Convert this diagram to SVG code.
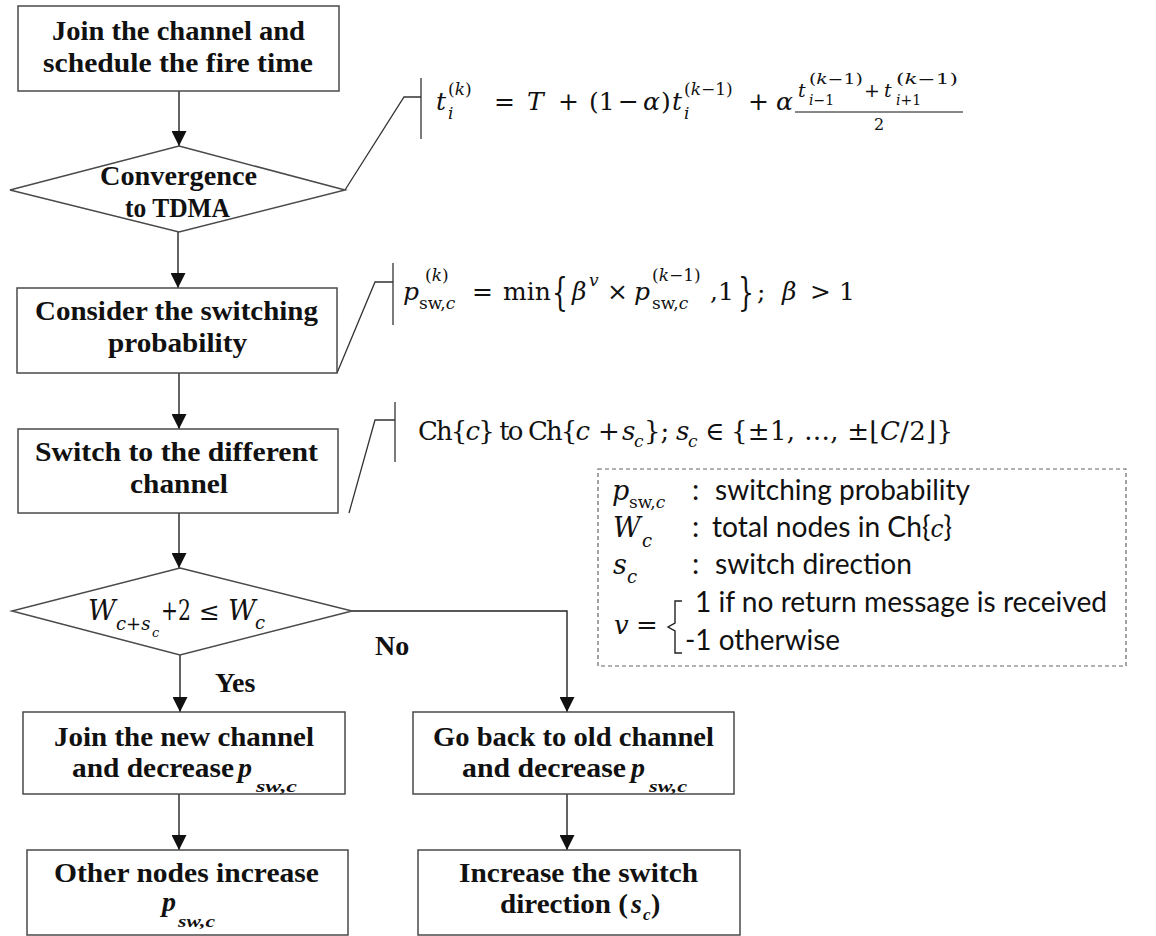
<svg xmlns="http://www.w3.org/2000/svg" width="1156" height="936" viewBox="0 0 1156 936">
  <style>
    .box { fill: #ffffff; stroke: #4a4a4a; stroke-width: 1.5; }
    .lbl { font-family: "Liberation Serif", serif; font-weight: bold; font-size: 28px; fill: #111; }
    .lbl-sub { font-family: "Liberation Serif", serif; font-weight: bold; font-style: italic; font-size: 17px; fill: #111; }
    .lbl-it { font-style: italic; }
    .math { font-family: "DejaVu Serif", serif; fill: #111; }
    .it { font-style: italic; }
    .leg { font-family: "Lato", "Liberation Sans", sans-serif; font-size: 29px; fill: #111; }
    .conn { stroke: #222; stroke-width: 1.4; fill: none; }
    .call { stroke: #333; stroke-width: 1.3; fill: none; }
  </style>
  <defs>
    <marker id="arrow" markerUnits="userSpaceOnUse" markerWidth="15" markerHeight="15" refX="15" refY="7.5" orient="auto">
      <path d="M0,0 L15,7.5 L0,15 z" fill="#111"/>
    </marker>
  </defs>
  <rect width="1156" height="936" fill="#ffffff"/>

  <!-- connectors -->
  <g id="connectors">
    <path class="conn" d="M179,91 V146" marker-end="url(#arrow)"/>
    <path class="conn" d="M178,232 V288" marker-end="url(#arrow)"/>
    <path class="conn" d="M179,373 V429" marker-end="url(#arrow)"/>
    <path class="conn" d="M179,513 V568" marker-end="url(#arrow)"/>
    <path class="conn" d="M180,655 V712" marker-end="url(#arrow)"/>
    <path class="conn" d="M352,611 H567 V712" marker-end="url(#arrow)"/>
    <path class="conn" d="M179,794 V850" marker-end="url(#arrow)"/>
    <path class="conn" d="M567,794 V850" marker-end="url(#arrow)"/>
    <text class="lbl" x="375" y="655" font-size="27">No</text>
    <text class="lbl" x="215" y="692" font-size="27">Yes</text>
  </g>

  <!-- callout brackets to the formulas -->
  <g id="callouts">
    <polyline class="call" points="345,190 404,97 421,97"/>
    <line class="call" x1="421" y1="78" x2="421" y2="139"/>
    <polyline class="call" points="337,373 375,282 393,282"/>
    <line class="call" x1="393" y1="263" x2="393" y2="325"/>
    <polyline class="call" points="349,513 375,420 395,420"/>
    <line class="call" x1="395" y1="402" x2="395" y2="462"/>
  </g>

  <!-- flow nodes -->
  <g id="join-channel">
    <rect class="box" x="18" y="6" width="321" height="85"/>
    <text class="lbl" x="52" y="40" textLength="253" lengthAdjust="spacingAndGlyphs">Join the channel and</text>
    <text class="lbl" x="43" y="72" textLength="270" lengthAdjust="spacingAndGlyphs">schedule the fire time</text>
  </g>

  <g id="convergence">
    <polygon class="box" points="179,146 345,190 179,232 10,190"/>
    <text class="lbl" x="100" y="185" textLength="157" lengthAdjust="spacingAndGlyphs">Convergence</text>
    <text class="lbl" x="125" y="217" textLength="105" lengthAdjust="spacingAndGlyphs">to TDMA</text>
  </g>

  <g id="consider-probability">
    <rect class="box" x="17" y="288" width="320" height="85"/>
    <text class="lbl" x="35" y="320" textLength="283" lengthAdjust="spacingAndGlyphs">Consider the switching</text>
    <text class="lbl" x="108" y="352" textLength="139" lengthAdjust="spacingAndGlyphs">probability</text>
  </g>

  <g id="switch-channel">
    <rect class="box" x="18" y="429" width="320" height="84"/>
    <text class="lbl" x="35" y="461" textLength="283" lengthAdjust="spacingAndGlyphs">Switch to the different</text>
    <text class="lbl" x="130" y="493" textLength="98" lengthAdjust="spacingAndGlyphs">channel</text>
  </g>

  <g id="capacity-check">
    <polygon class="box" points="180,568 352,611 180,655 12,611"/>
    <text class="math it" x="88" y="620" font-size="27">W</text>
    <text class="math it" y="630" font-size="18"><tspan x="116">c</tspan><tspan font-style="normal">+</tspan><tspan>s</tspan></text>
    <text class="math it" x="152" y="637" font-size="13">c</text>
    <text class="math" x="161" y="620" font-size="27" textLength="30" lengthAdjust="spacingAndGlyphs">+2</text>
    <text class="math" x="199" y="620" font-size="25">≤</text>
    <text class="math it" x="228" y="620" font-size="27">W</text>
    <text class="math it" x="255" y="629" font-size="18">c</text>
  </g>

  <g id="join-new-channel">
    <rect class="box" x="23" y="712" width="322" height="82"/>
    <text class="lbl" x="54" y="746" textLength="260" lengthAdjust="spacingAndGlyphs">Join the new channel</text>
    <text class="lbl" x="72" y="777" textLength="162" lengthAdjust="spacingAndGlyphs">and decrease</text>
    <text class="lbl lbl-it" x="238" y="777">p</text>
    <text class="lbl-sub" x="256" y="792" textLength="41" lengthAdjust="spacingAndGlyphs">sw,c</text>
  </g>

  <g id="go-back">
    <rect class="box" x="413" y="712" width="321" height="82"/>
    <text class="lbl" x="433" y="746" textLength="281" lengthAdjust="spacingAndGlyphs">Go back to old channel</text>
    <text class="lbl" x="462" y="777" textLength="164" lengthAdjust="spacingAndGlyphs">and decrease</text>
    <text class="lbl lbl-it" x="631" y="777">p</text>
    <text class="lbl-sub" x="649" y="792" textLength="38" lengthAdjust="spacingAndGlyphs">sw,c</text>
  </g>

  <g id="others-increase">
    <rect class="box" x="27" y="850" width="321" height="85"/>
    <text class="lbl" x="54" y="882" textLength="265" lengthAdjust="spacingAndGlyphs">Other nodes increase</text>
    <text class="lbl lbl-it" x="162" y="911">p</text>
    <text class="lbl-sub" x="178" y="927" textLength="37" lengthAdjust="spacingAndGlyphs">sw,c</text>
  </g>

  <g id="increase-direction">
    <rect class="box" x="418" y="850" width="322" height="85"/>
    <text class="lbl" x="459" y="882" textLength="239" lengthAdjust="spacingAndGlyphs">Increase the switch</text>
    <text class="lbl" x="500" y="913" textLength="128" lengthAdjust="spacingAndGlyphs">direction (</text>
    <text class="lbl lbl-it" x="631" y="913">s</text>
    <text class="lbl-sub" x="643" y="920" font-size="15">c</text>
    <text class="lbl" x="651" y="913">)</text>
  </g>

  <!-- fire-time update rule -->
  <g id="formula-firetime" class="math">
    <text x="436" y="110" font-size="25" class="it">t</text>
    <text x="448" y="95" font-size="17">(<tspan class="it">k</tspan>)</text>
    <text x="448" y="119" font-size="17" class="it">i</text>
    <text x="494" y="110" font-size="25">=</text>
    <text x="527" y="110" font-size="25" class="it">T</text>
    <text x="558" y="110" font-size="25">+</text>
    <text x="589" y="110" font-size="25">(1</text>
    <text x="618" y="110" font-size="25">−</text>
    <text x="643" y="110" font-size="25" class="it">α</text>
    <text x="661" y="110" font-size="25">)</text>
    <text x="672" y="110" font-size="25" class="it">t</text>
    <text x="684" y="95" font-size="17">(<tspan class="it">k</tspan>−1)</text>
    <text x="684" y="119" font-size="17" class="it">i</text>
    <text x="748" y="110" font-size="25">+</text>
    <text x="776" y="110" font-size="25" class="it">α</text>
    <text x="798" y="97" font-size="19" class="it">t</text>
    <text x="809" y="84" font-size="14" textLength="54" lengthAdjust="spacingAndGlyphs">(<tspan class="it">k</tspan>−1)</text>
    <text x="809" y="105" font-size="14" class="it">i<tspan font-style="normal">−1</tspan></text>
    <text x="864" y="97" font-size="19">+</text>
    <text x="884" y="97" font-size="19" class="it">t</text>
    <text x="896" y="84" font-size="14" textLength="62" lengthAdjust="spacingAndGlyphs">(<tspan class="it">k</tspan>−1)</text>
    <text x="896" y="105" font-size="14" class="it">i<tspan font-style="normal">+1</tspan></text>
    <line x1="795" y1="112" x2="963" y2="112" stroke="#111" stroke-width="1"/>
    <text x="879" y="130" font-size="16" text-anchor="middle">2</text>
  </g>

  <!-- switching probability update rule -->
  <g id="formula-probability" class="math">
    <text x="403" y="300" font-size="25" class="it">p</text>
    <text x="425" y="281" font-size="17">(<tspan class="it">k</tspan>)</text>
    <text x="419" y="309" font-size="17">sw,<tspan class="it">c</tspan></text>
    <text x="472" y="300" font-size="25">=</text>
    <text x="503" y="300" font-size="25">min</text>
    <text font-size="25" transform="translate(552,300) scale(1,1.6)" y="3">{</text>
    <text x="572" y="300" font-size="25" class="it">β</text>
    <text x="589" y="286" font-size="17" class="it">v</text>
    <text x="607" y="300" font-size="25">×</text>
    <text x="634" y="300" font-size="25" class="it">p</text>
    <text x="652" y="281" font-size="17">(<tspan class="it">k</tspan>−1)</text>
    <text x="652" y="309" font-size="17">sw,<tspan class="it">c</tspan></text>
    <text x="710" y="300" font-size="25">,1</text>
    <text font-size="25" transform="translate(738,300) scale(1,1.6)" y="3">}</text>
    <text x="757" y="300" font-size="25">;</text>
    <text x="782" y="300" font-size="25" class="it">β</text>
    <text x="810" y="300" font-size="25">&gt;</text>
    <text x="839" y="300" font-size="25">1</text>
  </g>

  <!-- channel switch rule -->
  <g id="formula-channel" class="math">
    <text x="418" y="440" font-size="26" textLength="172" lengthAdjust="spacing">Ch{<tspan class="it">c</tspan>} to Ch{<tspan class="it">c</tspan></text>
    <text x="598" y="440" font-size="26">+</text>
    <text x="622" y="440" font-size="26" class="it">s</text>
    <text x="634" y="447" font-size="17" class="it">c</text>
    <text x="644" y="440" font-size="26">};</text>
    <text x="676" y="440" font-size="26" class="it">s</text>
    <text x="688" y="447" font-size="17" class="it">c</text>
    <text x="705" y="440" font-size="26">∈</text>
    <text x="731" y="440" font-size="26" textLength="222" lengthAdjust="spacing">{±1, …, ±⌊<tspan class="it">C</tspan>/2⌋}</text>
  </g>

  <!-- legend of symbols -->
  <g id="legend">
    <rect x="598" y="469" width="528" height="197" fill="none" stroke="#666" stroke-width="1.2" stroke-dasharray="4,3"/>
    <text class="math it" x="612" y="500" font-size="27">p</text>
    <text class="math" x="629" y="508" font-size="17">sw,<tspan class="it">c</tspan></text>
    <text class="leg" x="692" y="500">:</text>
    <text class="leg" x="715" y="500" textLength="255" lengthAdjust="spacingAndGlyphs">switching probability</text>

    <text class="math it" x="613" y="537" font-size="27">W</text>
    <text class="math it" x="642" y="547" font-size="18">c</text>
    <text class="leg" x="692" y="537">:</text>
    <text class="leg" x="712" y="537" textLength="240" lengthAdjust="spacingAndGlyphs">total nodes in Ch{<tspan font-family="DejaVu Serif, serif" font-style="italic" font-size="24">c</tspan>}</text>

    <text class="math it" x="613" y="574" font-size="27">s</text>
    <text class="math it" x="627" y="583" font-size="18">c</text>
    <text class="leg" x="692" y="574">:</text>
    <text class="leg" x="715" y="574" textLength="197" lengthAdjust="spacingAndGlyphs">switch direction</text>

    <text class="math it" x="614" y="634" font-size="26" fill="#2a2a5a">v</text>
    <text class="math" x="636" y="634" font-size="26">=</text>
    <path d="M682,601 H675 V623 L668,627 L675,631 V653 H682" fill="none" stroke="#222" stroke-width="1.4"/>
    <text class="leg" x="695" y="612" textLength="412" lengthAdjust="spacingAndGlyphs">1 if no return message is received</text>
    <text class="leg" x="685" y="650" textLength="155" lengthAdjust="spacingAndGlyphs">-1 otherwise</text>
  </g>
</svg>
